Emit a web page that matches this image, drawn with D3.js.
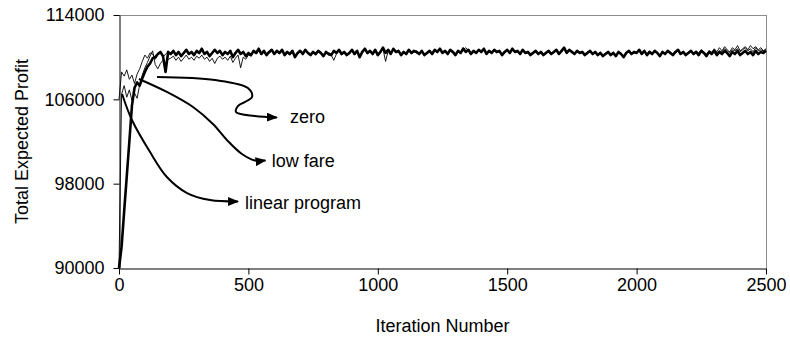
<!DOCTYPE html>
<html>
<head>
<meta charset="utf-8">
<script src="https://cdn.jsdelivr.net/npm/d3@7"></script>
<style>
  body { margin: 0; background: #fff; }
  text { font-family: "Liberation Sans", Arial, sans-serif; }
</style>
</head>
<body>
<div id="chart"></div>
<script>
const W = 790, H = 343;
const margin = { top: 15, right: 24, bottom: 75, left: 119 };

// Profit per iteration, sampled every 10 iterations (values in thousands)
const STEP = 10;
const zero = [
  90.0, 92.0, 95.4, 98.7, 102.0, 105.4, 107.1, 107.6, 107.3, 108.0,
  108.6, 109.1, 109.4, 109.9, 110.0, 110.3, 110.5, 110.1, 108.6, 110.5,
  110.3, 110.6, 110.2, 110.5, 110.1, 110.4, 110.7, 110.3, 110.5, 110.2,
  110.6, 110.4, 110.8, 110.3, 110.5, 110.1, 110.4, 110.7, 110.4, 110.6,
  110.2, 110.5, 110.3, 110.6, 110.0, 110.4, 110.7, 110.3, 110.5, 110.1,
  110.4, 110.2, 110.6, 110.4, 110.8, 110.3, 110.6, 110.2, 110.5, 110.7,
  110.3, 110.6, 110.4, 110.7, 110.2, 110.5, 110.3, 110.6, 110.0, 110.4,
  110.6, 110.3, 110.7, 110.4, 110.2, 110.5, 110.3, 110.6, 110.4, 110.1,
  110.5, 110.3, 110.2, 110.6, 110.4, 110.7, 110.3, 110.5, 110.2, 110.4,
  110.7, 110.3, 110.6, 110.0, 110.5, 110.8, 110.4, 110.6, 110.3, 110.7,
  110.2, 110.5, 110.9, 110.4, 110.7, 110.3, 110.8, 110.5, 110.6, 110.2,
  110.5, 110.3, 110.7, 110.4, 110.6, 110.5, 110.3, 110.6, 110.2, 110.4,
  110.6, 110.3, 110.7, 110.5, 110.8, 110.4, 110.6, 110.3, 110.7, 110.5,
  110.2, 110.6, 110.4, 110.8, 110.5, 110.7, 110.3, 110.6, 110.4, 110.7,
  110.5, 110.8, 110.3, 110.6, 110.4, 110.7, 110.5, 110.6, 110.2, 110.5,
  110.7, 110.4, 110.8, 110.5, 110.6, 110.3, 110.7, 110.4, 110.5, 110.2,
  110.4, 110.6, 110.3, 110.5, 110.2, 110.4, 110.6, 110.3, 110.5, 110.7,
  110.3, 110.6, 110.9, 110.4, 110.7, 110.5, 110.3, 110.6, 110.4, 110.5,
  110.2, 110.4, 110.6, 110.3, 110.5, 110.2, 110.4, 110.1, 110.3, 110.5,
  110.2, 110.4, 110.1, 110.5, 110.3, 110.0, 110.4, 110.6, 110.3, 110.5,
  110.4, 110.7, 110.3, 110.6, 110.2, 110.5, 110.3, 110.6, 110.4, 110.1,
  110.5, 110.3, 110.6, 110.4, 110.2, 110.5, 110.7, 110.3, 110.5, 110.2,
  110.4, 110.6, 110.3, 110.5, 110.2, 110.6, 110.4, 110.1, 110.5, 110.3,
  110.6, 110.2, 110.5, 110.3, 110.6, 110.4, 110.1, 110.5, 110.3, 110.6,
  110.2, 110.4, 110.6, 110.3, 110.5, 110.2, 110.6, 110.3, 110.5, 110.4,
  110.6
];
const linearProgram = [
  106.0, 108.6, 108.2, 108.8, 107.9, 108.3, 107.5, 108.4, 108.9, 109.6,
  110.2, 109.9, 110.4, 110.3, 109.8, 110.2, 110.4, 110.0, 110.3, 110.5,
  110.2, 110.5, 110.3, 110.4, 110.2, 110.3, 110.6, 110.4, 110.4, 110.3,
  110.5, 110.3, 110.7, 110.4, 110.4, 110.2, 110.3, 110.6, 110.5, 110.5,
  110.3, 110.4, 110.4, 110.5, 110.1, 110.3, 110.6, 110.4, 110.4, 110.2,
  110.3, 110.3, 110.5, 110.5, 110.7, 110.4, 110.5, 110.3, 110.4, 110.6,
  110.4, 110.5, 110.5, 110.6, 110.3, 110.4, 110.4, 110.5, 110.1, 110.3,
  110.5, 110.4, 110.6, 110.5, 110.3, 110.4, 110.4, 110.5, 110.5, 110.2,
  110.4, 110.4, 110.3, 110.5, 110.5, 110.6, 110.4, 110.4, 110.3, 110.3,
  110.6, 110.4, 110.5, 110.1, 110.4, 110.7, 110.5, 110.5, 110.4, 110.6,
  110.3, 110.4, 110.8, 110.5, 110.6, 110.4, 110.7, 110.6, 110.5, 110.3,
  110.4, 110.4, 110.6, 110.5, 110.5, 110.6, 110.4, 110.5, 110.3, 110.3,
  110.5, 110.4, 110.6, 110.6, 110.7, 110.5, 110.5, 110.4, 110.6, 110.6,
  110.3, 110.5, 110.5, 110.9, 110.6, 110.6, 110.4, 110.5, 110.5, 110.6,
  110.6, 110.7, 110.4, 110.5, 110.5, 110.6, 110.6, 110.5, 110.3, 110.4,
  110.6, 110.5, 110.7, 110.6, 110.5, 110.4, 110.6, 110.5, 110.4, 110.3,
  110.5, 110.5, 110.4, 110.4, 110.3, 110.5, 110.5, 110.4, 110.4, 110.6,
  110.4, 110.5, 110.8, 110.5, 110.6, 110.6, 110.4, 110.5, 110.5, 110.4,
  110.3, 110.5, 110.5, 110.4, 110.4, 110.3, 110.5, 110.2, 110.4, 110.4,
  110.3, 110.5, 110.2, 110.4, 110.4, 110.1, 110.5, 110.5, 110.4, 110.4,
  110.5, 110.6, 110.4, 110.5, 110.3, 110.6, 110.4, 110.5, 110.5, 110.2,
  110.4, 110.4, 110.5, 110.5, 110.3, 110.4, 110.6, 110.4, 110.4, 110.3,
  110.5, 110.5, 110.4, 110.6, 110.3, 110.5, 110.5, 110.2, 110.6, 110.5,
  110.7, 110.4, 110.6, 110.5, 110.8, 110.6, 110.4, 110.7, 110.6, 110.8,
  110.5, 110.7, 110.9, 110.6, 110.8, 110.5, 110.9, 110.6, 110.7, 110.6,
  110.7
];
const lowFare = [
  90.0, 106.5, 107.3, 106.2, 106.9, 105.9, 106.6, 106.1, 107.4, 108.3,
  109.0, 109.5, 110.1, 110.6, 109.3, 108.9, 109.4, 109.7, 109.5, 109.8,
  109.9, 110.1, 109.7, 110.0, 109.6, 109.9, 110.2, 109.8, 110.0, 109.7,
  110.1, 109.9, 110.2, 109.8, 110.0, 109.6, 109.9, 109.4, 109.9, 110.1,
  109.8, 110.0, 109.7, 110.1, 109.5, 109.9, 110.2, 109.0, 110.0, 109.8,
  110.2, 110.1, 110.5, 110.3, 110.6, 110.2, 110.5, 110.2, 110.4, 110.6,
  110.3, 110.5, 110.3, 110.6, 110.2, 110.4, 110.2, 110.5, 110.0, 110.3,
  110.5, 110.3, 110.6, 110.3, 110.2, 110.4, 110.2, 110.5, 110.3, 110.1,
  110.4, 110.2, 110.2, 109.7, 110.3, 110.6, 110.2, 110.4, 110.2, 110.3,
  110.6, 110.2, 110.5, 110.0, 110.4, 110.7, 110.3, 110.5, 110.3, 110.6,
  110.2, 110.4, 110.8, 109.6, 110.6, 110.3, 110.7, 110.4, 110.5, 110.2,
  110.4, 110.3, 110.6, 110.3, 110.5, 110.4, 110.3, 110.5, 110.2, 110.4,
  110.5, 110.3, 110.6, 110.4, 110.7, 110.4, 110.5, 110.3, 110.6, 110.4,
  110.3, 110.5, 110.4, 110.7, 110.9, 110.6, 110.3, 110.5, 110.4, 110.6,
  110.4, 110.7, 110.3, 110.5, 110.4, 110.6, 110.4, 110.5, 110.2, 110.4,
  110.6, 110.4, 110.7, 110.4, 110.5, 110.3, 110.6, 110.4, 110.4, 110.2,
  110.4, 110.5, 110.3, 110.4, 110.2, 110.4, 110.5, 110.3, 110.4, 110.6,
  110.3, 110.5, 110.8, 110.4, 110.6, 110.5, 110.3, 110.5, 110.4, 110.4,
  110.2, 110.4, 110.5, 110.3, 110.4, 110.2, 110.4, 110.1, 110.3, 110.4,
  110.2, 110.4, 110.1, 110.4, 110.3, 110.0, 110.4, 110.5, 110.3, 110.4,
  110.4, 110.6, 110.3, 110.5, 110.2, 110.5, 110.3, 110.5, 110.4, 110.1,
  110.4, 110.3, 110.5, 110.4, 110.2, 110.4, 110.6, 110.3, 110.4, 110.2,
  110.4, 110.5, 110.3, 110.5, 110.4, 110.7, 110.5, 110.3, 110.6, 110.4,
  110.8, 110.5, 110.9, 110.6, 111.0, 110.7, 110.5, 110.9, 110.7, 111.1,
  110.6, 110.8, 111.0, 110.7, 111.1, 110.8, 111.0, 110.7, 110.9, 110.6,
  110.8
];

const xTicks = [0, 500, 1000, 1500, 2000, 2500];
const yTicks = [90000, 98000, 106000, 114000];

// Callout arrows, in [iteration, profit (thousands)]
const zeroArrow = [[147, 108.12], [371, 107.83], [498, 107.07], [514, 106.22], [460, 105.37], [452, 104.80], [525, 104.42], [610, 104.28]];
const lowFareArrow = [[77, 107.93], [185, 106.70], [286, 105.27], [363, 103.66], [417, 102.14], [475, 100.81], [525, 100.20], [566, 100.20]];
const lpArrow = [[12, 106.51], [50, 104.04], [120, 101.00], [185, 98.63], [263, 97.11], [352, 96.45], [460, 96.31]];
const callouts = [
  { label: 'zero', at: [661, 104.32], path: zeroArrow },
  { label: 'low fare', at: [590, 100.20], path: lowFareArrow },
  { label: 'linear program', at: [487, 96.19], path: lpArrow }
];

const FONT = '18px';

const svg = d3.select('#chart').append('svg')
  .attr('width', W).attr('height', H);

const x = d3.scaleLinear().domain([0, 2500]).range([margin.left, W - margin.right]);
const y = d3.scaleLinear().domain([90000, 114000]).range([H - margin.bottom, margin.top]);

// Frame: gray top & right
svg.append('line')
  .attr('x1', x(0)).attr('x2', x(2500)).attr('y1', y(114000) + 0.5).attr('y2', y(114000) + 0.5)
  .attr('stroke', '#8c8c8c');
svg.append('line')
  .attr('x1', x(2500) + 0.5).attr('x2', x(2500) + 0.5).attr('y1', y(114000)).attr('y2', y(90000))
  .attr('stroke', '#8c8c8c');

const xAxis = svg.append('g')
  .attr('transform', `translate(0,${y(90000) + 0.5})`)
  .call(d3.axisBottom(x).tickValues(xTicks).tickSize(6).tickSizeOuter(0).tickPadding(4).tickFormat(d3.format('d')));
const yAxis = svg.append('g')
  .attr('transform', `translate(${x(0) + 0.5},0)`)
  .call(d3.axisLeft(y).tickValues(yTicks).tickSize(6).tickSizeOuter(0).tickPadding(9).tickFormat(d3.format('d')));

[xAxis, yAxis].forEach(g => {
  g.select('.domain').attr('stroke', '#000');
  g.selectAll('.tick line').attr('stroke', '#000');
  g.selectAll('text').attr('font-size', FONT).attr('fill', '#000')
    .attr('font-family', '"Liberation Sans", Arial, sans-serif');
});

svg.append('text')
  .attr('x', (x(0) + x(2500)) / 2).attr('y', 332)
  .attr('text-anchor', 'middle').attr('font-size', FONT)
  .text('Iteration Number');

svg.append('text')
  .attr('transform', `translate(28,${(y(90000) + y(114000)) / 2}) rotate(-90)`)
  .attr('text-anchor', 'middle').attr('font-size', FONT)
  .text('Total Expected Profit');

const line = d3.line()
  .x((d, i) => x(i * STEP))
  .y(d => y(d * 1000));

svg.append('path').datum(zero)
  .attr('d', line).attr('fill', 'none')
  .attr('stroke', '#000').attr('stroke-width', 2.6).attr('stroke-linejoin', 'round');

[linearProgram, lowFare].forEach(s => {
  svg.append('path').datum(s)
    .attr('d', line).attr('fill', 'none')
    .attr('stroke', '#000').attr('stroke-width', 0.9).attr('stroke-linejoin', 'round');
});

// Arrow callouts
svg.append('defs').append('marker')
  .attr('id', 'arrow')
  .attr('viewBox', '0 0 11 9')
  .attr('refX', 10).attr('refY', 4.5)
  .attr('markerWidth', 11).attr('markerHeight', 9)
  .attr('markerUnits', 'userSpaceOnUse')
  .attr('orient', 'auto')
  .append('path').attr('d', 'M0,0 L11,4.5 L0,9 Z').attr('fill', '#000');

const arrowLine = d3.line()
  .x(d => x(d[0]))
  .y(d => y(d[1] * 1000))
  .curve(d3.curveCatmullRom.alpha(0.5));

callouts.forEach(c => {
  svg.append('path').datum(c.path)
    .attr('d', arrowLine)
    .attr('fill', 'none').attr('stroke', '#000').attr('stroke-width', 2)
    .attr('marker-end', 'url(#arrow)');
  svg.append('text')
    .attr('x', x(c.at[0])).attr('y', y(c.at[1] * 1000))
    .attr('dy', '0.35em').attr('font-size', FONT)
    .text(c.label);
});
</script>
</body>
</html>
